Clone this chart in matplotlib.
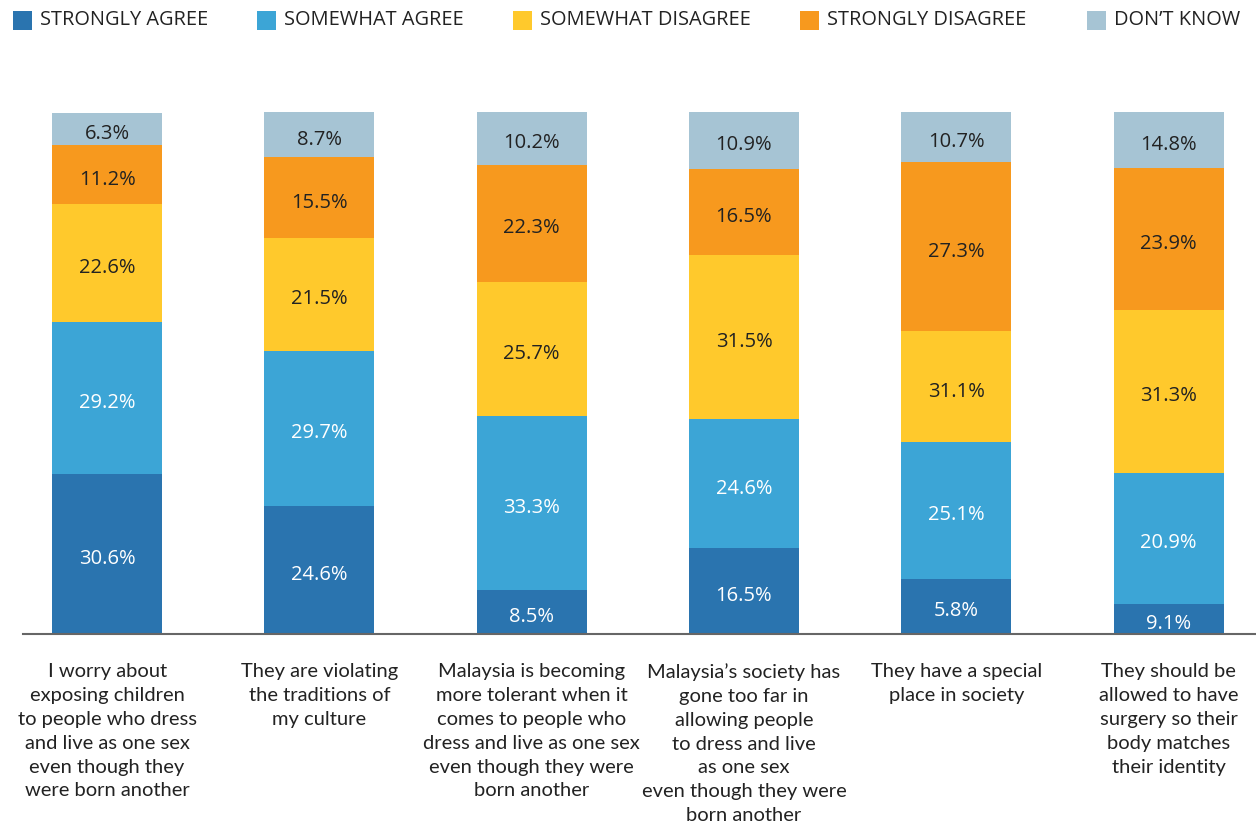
import matplotlib
matplotlib.use("Agg")
import matplotlib.pyplot as plt
from matplotlib.patches import Rectangle
import numpy as np

categories = [
    "I worry about\nexposing children\nto people who dress\nand live as one sex\neven though they\nwere born another",
    "They are violating\nthe traditions of\nmy culture",
    "Malaysia is becoming\nmore tolerant when it\ncomes to people who\ndress and live as one sex\neven though they were\nborn another",
    "Malaysia\u2019s society has\ngone too far in\nallowing people\nto dress and live\nas one sex\neven though they were\nborn another",
    "They have a special\nplace in society",
    "They should be\nallowed to have\nsurgery so their\nbody matches\ntheir identity",
]
series_names = ["STRONGLY AGREE", "SOMEWHAT AGREE", "SOMEWHAT DISAGREE", "STRONGLY DISAGREE", "DON\u2019T KNOW"]

# values printed on the segments
strongly_agree = [30.6, 24.6, 8.5, 16.5, 5.8, 9.1]
somewhat_agree = [29.2, 29.7, 33.3, 24.6, 25.1, 20.9]
somewhat_disagree = [22.6, 21.5, 25.7, 31.5, 31.1, 31.3]
strongly_disagree = [11.2, 15.5, 22.3, 16.5, 27.3, 23.9]
dont_know = [6.3, 8.7, 10.2, 10.9, 10.7, 14.8]

# segment heights as drawn in the picture (the last two bars differ from their labels)
strongly_agree_drawn = [30.6, 24.6, 8.5, 16.5, 10.6, 5.8]
somewhat_agree_drawn = [29.2, 29.7, 33.3, 24.6, 26.1, 25.1]
somewhat_disagree_drawn = [22.6, 21.5, 25.7, 31.5, 21.3, 31.1]
strongly_disagree_drawn = [11.2, 15.5, 22.3, 16.5, 32.4, 27.3]
dont_know_drawn = [6.3, 8.7, 10.2, 10.9, 9.6, 10.7]

labels = [strongly_agree, somewhat_agree, somewhat_disagree, strongly_disagree, dont_know]
drawn = [strongly_agree_drawn, somewhat_agree_drawn, somewhat_disagree_drawn,
         strongly_disagree_drawn, dont_know_drawn]
colors = ["#2A74AF", "#3CA5D6", "#FFC92C", "#F7991E", "#A6C4D4"]
text_colors = ["white", "white", "#222222", "#222222", "#222222"]

W, H = 1256, 824
fig = plt.figure(figsize=(W / 100, H / 100), dpi=100)
ax = fig.add_axes([23 / W, (H - 634) / H, 1 - 23 / W, (634 - 112) / H])

x = np.arange(len(categories))
width = 0.518
bottom = np.zeros(len(categories))
for vals, labs, col, tc in zip(drawn, labels, colors, text_colors):
    vals = np.array(vals)
    ax.bar(x, vals, width=width, bottom=bottom, color=col, linewidth=0)
    for xi, b, v, lab in zip(x, bottom, vals, labs):
        ax.annotate(f"{lab:.1f}%", xy=(xi, b + v / 2), xytext=(0, -3.5),
                    textcoords="offset points", ha="center", va="center",
                    color=tc, fontsize=14.5, family=["Open Sans", "DejaVu Sans"])
    bottom += vals

ax.set_xlim(-0.396, 5.412)
ax.set_ylim(0, 100)
for s in ["top", "right", "left"]:
    ax.spines[s].set_visible(False)
ax.spines["bottom"].set_color("#666666")
ax.spines["bottom"].set_linewidth(1.5)
ax.set_yticks([])
ax.set_xticks(x)
ax.set_xticklabels(categories, fontsize=14.5, family=["Lato", "DejaVu Sans"],
                   color="#222222", linespacing=1.49, va="top")
ax.tick_params(axis="x", length=0, pad=21)

# legend
sq_x = [13, 257, 513, 800, 1087]
for sx, name, col in zip(sq_x, series_names, colors):
    fig.patches.append(Rectangle((sx / W, 1 - 30 / H), 19 / W, 19 / H,
                                 transform=fig.transFigure, color=col, linewidth=0))
    fig.text((sx + 27) / W, 1 - 20 / H, name, ha="left", va="center",
             fontsize=14.4, family=["Open Sans", "DejaVu Sans"], color="#222222")

fig.savefig("out.png", dpi=100)
